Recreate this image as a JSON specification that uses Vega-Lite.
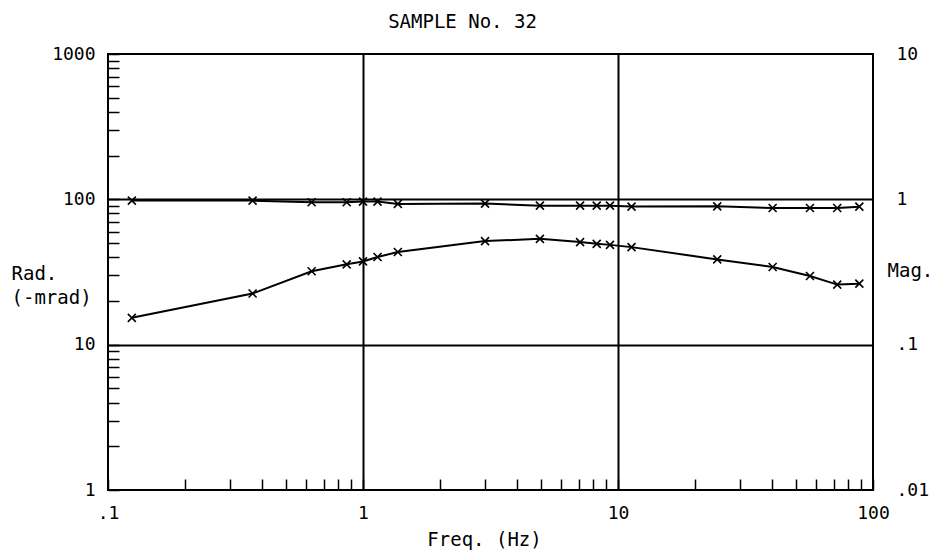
{
  "$schema": "https://vega.github.io/schema/vega-lite/v6.json",
  "width": 765,
  "height": 436,
  "autosize": {"type": "none"},
  "padding": {"left": 108, "top": 54, "right": 62, "bottom": 70},
  "background": "white",
  "config": {
    "view": {"stroke": "black", "strokeWidth": 2},
    "font": "DejaVu Sans Mono"
  },
  "title": {
    "text": "SAMPLE No. 32",
    "font": "DejaVu Sans Mono",
    "fontSize": 19,
    "fontWeight": "normal",
    "color": "black",
    "anchor": "middle",
    "offset": 13,
    "dx": -28
  },
  "data": {
    "values": [
      {"f": 0.124, "phase": 15.3, "mag": 0.98},
      {"f": 0.369, "phase": 22.5, "mag": 0.98},
      {"f": 0.629, "phase": 32.0, "mag": 0.955},
      {"f": 0.863, "phase": 35.7, "mag": 0.955},
      {"f": 1.0, "phase": 37.4, "mag": 0.965},
      {"f": 1.14, "phase": 40.1, "mag": 0.965},
      {"f": 1.37, "phase": 43.4, "mag": 0.93},
      {"f": 3.01, "phase": 51.6, "mag": 0.935},
      {"f": 4.94, "phase": 53.5, "mag": 0.905},
      {"f": 7.1, "phase": 50.8, "mag": 0.905},
      {"f": 8.25, "phase": 49.4, "mag": 0.905},
      {"f": 9.3, "phase": 48.6, "mag": 0.905},
      {"f": 11.3, "phase": 46.9, "mag": 0.891},
      {"f": 24.5, "phase": 38.6, "mag": 0.895},
      {"f": 40.4, "phase": 34.2, "mag": 0.872},
      {"f": 56.6, "phase": 29.7, "mag": 0.872},
      {"f": 72.4, "phase": 25.9, "mag": 0.872},
      {"f": 88.4, "phase": 26.3, "mag": 0.89}
    ]
  },
  "encoding": {
    "x": {
      "field": "f",
      "type": "quantitative",
      "scale": {"type": "log", "domain": [0.1, 100], "nice": false},
      "axis": {
        "title": "Freq. (Hz)",
        "titleFont": "DejaVu Sans Mono",
        "titleFontSize": 19,
        "titleFontWeight": "normal",
        "titleColor": "black",
        "titleX": 376,
        "titleY": 49,
        "titleBaseline": "middle",
        "values": [0.1, 0.2, 0.3, 0.4, 0.5, 0.6, 0.7, 0.8, 0.9, 1, 2, 3, 4, 5, 6, 7, 8, 9, 10, 20, 30, 40, 50, 60, 70, 80, 90, 100],
        "labelExpr": "datum.value == 0.1 ? '.1' : datum.value == 1 ? '1' : datum.value == 10 ? '10' : datum.value == 100 ? '100' : ''",
        "labelFont": "DejaVu Sans Mono",
        "labelFontSize": 18,
        "labelColor": "black",
        "labelPadding": 25,
        "labelFlush": false,
        "labelOverlap": false,
        "domain": false,
        "ticks": true,
        "tickSize": -11,
        "tickColor": "black",
        "tickWidth": 1.5,
        "grid": true,
        "gridColor": "black",
        "gridWidth": 2,
        "gridOpacity": {"condition": {"test": "datum.value == 1 || datum.value == 10", "value": 1}, "value": 0}
      }
    }
  },
  "layer": [
    {
      "encoding": {
        "y": {
          "field": "phase",
          "type": "quantitative",
          "scale": {"type": "log", "domain": [1, 1000], "nice": false},
          "axis": {
            "orient": "left",
            "title": ["Rad.", "(-mrad)"],
            "titleFont": "DejaVu Sans Mono",
            "titleFontSize": 19,
            "titleFontWeight": "normal",
            "titleColor": "black",
            "titleAngle": 0,
            "titleAlign": "left",
            "titleBaseline": "middle",
            "titleX": -97,
            "titleY": 219,
            "titleLineHeight": 24,
            "values": [1, 2, 3, 4, 5, 6, 7, 8, 9, 10, 20, 30, 40, 50, 60, 70, 80, 90, 100, 200, 300, 400, 500, 600, 700, 800, 900, 1000],
            "labelExpr": "datum.value == 1 ? '1' : datum.value == 10 ? '10' : datum.value == 100 ? '100' : datum.value == 1000 ? '1000' : ''",
            "labelFont": "DejaVu Sans Mono",
            "labelFontSize": 18,
            "labelColor": "black",
            "labelPadding": 24,
            "labelFlush": false,
            "labelOverlap": false,
            "domain": false,
            "ticks": true,
            "tickSize": -11,
            "tickColor": "black",
            "tickWidth": 1.5,
            "grid": true,
            "gridColor": "black",
            "gridWidth": 2,
            "gridOpacity": {"condition": {"test": "datum.value == 10 || datum.value == 100", "value": 1}, "value": 0}
          }
        }
      },
      "layer": [
        {"mark": {"type": "line", "color": "black", "strokeWidth": 2}},
        {"mark": {"type": "point", "shape": "M-1,-1L1,1M-1,1L1,-1", "size": 64, "filled": false, "stroke": "black", "strokeWidth": 1.6, "opacity": 1}}
      ]
    },
    {
      "encoding": {
        "y": {
          "field": "mag",
          "type": "quantitative",
          "scale": {"type": "log", "domain": [0.01, 10], "nice": false},
          "axis": {
            "orient": "right",
            "title": "Mag.",
            "titleFont": "DejaVu Sans Mono",
            "titleFontSize": 19,
            "titleFontWeight": "normal",
            "titleColor": "black",
            "titleAngle": 0,
            "titleAlign": "left",
            "titleBaseline": "middle",
            "titleX": 14,
            "titleY": 216,
            "values": [0.01, 0.1, 1, 10],
            "labelExpr": "datum.value == 0.01 ? '.01' : datum.value == 0.1 ? '.1' : datum.value == 1 ? '1' : '10'",
            "labelFont": "DejaVu Sans Mono",
            "labelFontSize": 18,
            "labelColor": "black",
            "labelPadding": 23,
            "labelFlush": false,
            "labelOverlap": false,
            "domain": false,
            "ticks": false,
            "grid": false
          }
        }
      },
      "layer": [
        {"mark": {"type": "line", "color": "black", "strokeWidth": 2}},
        {"mark": {"type": "point", "shape": "M-1,-1L1,1M-1,1L1,-1", "size": 64, "filled": false, "stroke": "black", "strokeWidth": 1.6, "opacity": 1}}
      ]
    }
  ],
  "resolve": {"scale": {"y": "independent"}}
}
